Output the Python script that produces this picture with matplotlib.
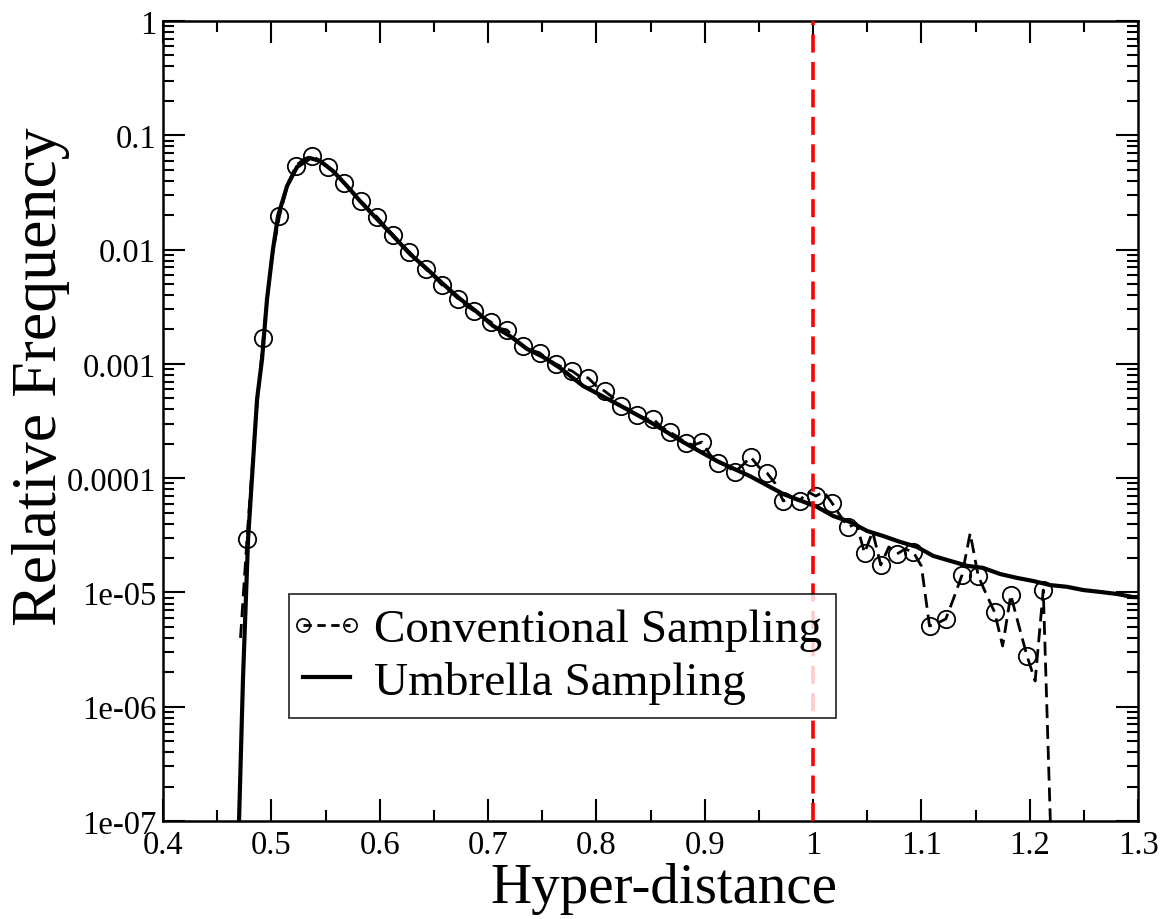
import matplotlib
matplotlib.use("Agg")
import matplotlib.pyplot as plt
from matplotlib.lines import Line2D
from matplotlib.legend_handler import HandlerLine2D
from matplotlib.ticker import FixedLocator, NullFormatter, LogLocator

plt.rcParams["font.family"] = ["Liberation Serif", "DejaVu Serif"]

# Conventional sampling (markers on every other point)
conv_x = [0.4715, 0.4775, 0.485, 0.4925, 0.500, 0.5075, 0.515, 0.5225, 0.530, 0.5375,
          0.545, 0.5525, 0.560, 0.5675, 0.575, 0.5825, 0.590, 0.5975, 0.605, 0.6125,
          0.620, 0.6275, 0.635, 0.6425, 0.650, 0.6575, 0.665, 0.6725, 0.680, 0.6875,
          0.695, 0.7025, 0.710, 0.7175, 0.725, 0.7325, 0.740, 0.7475, 0.755, 0.7625,
          0.770, 0.7775, 0.785, 0.7925, 0.800, 0.8075, 0.815, 0.8225, 0.830, 0.8375,
          0.845, 0.8525, 0.860, 0.8675, 0.875, 0.8825, 0.890, 0.8975, 0.905, 0.9125,
          0.920, 0.9275, 0.935, 0.9425, 0.950, 0.9575, 0.965, 0.9725, 0.980, 0.9875,
          0.995, 1.0025, 1.010, 1.0175, 1.025, 1.0325, 1.040, 1.0475, 1.055, 1.0625,
          1.070, 1.0775, 1.085, 1.0925, 1.100, 1.1075, 1.115, 1.1225, 1.130, 1.1375,
          1.145, 1.1525, 1.160, 1.1675, 1.175, 1.1825, 1.190, 1.1975, 1.205, 1.2125,
          1.220]
conv_y = [4e-6, 2.94e-5, 2.8e-4, 1.69e-3, 8.0e-3, 1.97e-2, 3.7e-2, 5.39e-2, 6.2e-2, 6.59e-2,
          6.0e-2, 5.28e-2, 4.5e-2, 3.83e-2, 3.2e-2, 2.66e-2, 2.25e-2, 1.93e-2, 1.6e-2, 1.34e-2,
          1.12e-2, 9.53e-3, 8.0e-3, 6.76e-3, 5.8e-3, 4.90e-3, 4.3e-3, 3.70e-3, 3.2e-3, 2.90e-3,
          2.55e-3, 2.33e-3, 2.05e-3, 1.98e-3, 1.65e-3, 1.43e-3, 1.32e-3, 1.25e-3, 1.1e-3, 1.00e-3,
          9.2e-4, 8.67e-4, 7.7e-4, 7.53e-4, 6.4e-4, 5.79e-4, 5.1e-4, 4.28e-4, 4.0e-4, 3.57e-4,
          3.3e-4, 3.30e-4, 2.8e-4, 2.54e-4, 2.3e-4, 2.03e-4, 1.95e-4, 2.07e-4, 1.6e-4, 1.36e-4,
          1.3e-4, 1.13e-4, 1.3e-4, 1.53e-4, 1.25e-4, 1.11e-4, 9.0e-5, 6.32e-5, 6.7e-5, 6.32e-5,
          7.6e-5, 6.98e-5, 7.6e-5, 6.07e-5, 4.7e-5, 3.74e-5, 4.0e-5, 2.22e-5, 3.4e-5, 1.74e-5,
          2.5e-5, 2.17e-5, 2.4e-5, 2.26e-5, 1.7e-5, 5.09e-6, 5.4e-6, 5.86e-6, 9.0e-6, 1.42e-5,
          3.3e-5, 1.39e-5, 9.6e-6, 6.75e-6, 3.4e-6, 9.5e-6, 5.1e-6, 2.78e-6, 1.68e-6, 1.05e-5,
          5e-8]

# Umbrella sampling
umb_x = [0.4695, 0.4738, 0.4785, 0.4868, 0.4914, 0.4960, 0.5015, 0.5062, 0.5145, 0.5237,
         0.5357, 0.5449, 0.5569, 0.5698, 0.5818, 0.5975, 0.6123, 0.6280, 0.6437, 0.6585,
         0.6742, 0.6898, 0.7046, 0.7203, 0.7360, 0.7508, 0.7665, 0.7877, 0.8191, 0.8496,
         0.8800, 0.9114, 0.9419, 0.9724, 1.0037, 1.0185, 1.0342, 1.0499, 1.0646, 1.0803,
         1.0960, 1.1108, 1.1265, 1.1422, 1.1569, 1.1726, 1.1883, 1.2031, 1.2188, 1.2345,
         1.2493, 1.2650, 1.2806, 1.2954, 1.3000]
umb_y = [6e-8, 1.75e-6, 2.94e-5, 4.93e-4, 1.10e-3, 3.70e-3, 1.01e-2, 1.97e-2, 3.60e-2, 5.28e-2,
         6.32e-2, 5.96e-2, 4.87e-2, 3.60e-2, 2.66e-2, 1.85e-2, 1.32e-2, 9.14e-3, 6.76e-3, 5.00e-3,
         3.70e-3, 2.84e-3, 2.15e-3, 1.75e-3, 1.35e-3, 1.15e-3, 9.2e-4, 6.41e-4, 4.46e-4, 3.10e-4,
         2.07e-4, 1.41e-4, 1.04e-4, 7.27e-5, 5.60e-5, 4.67e-5, 4.14e-5, 3.45e-5, 3.12e-5, 2.77e-5,
         2.50e-5, 2.09e-5, 1.89e-5, 1.71e-5, 1.64e-5, 1.45e-5, 1.34e-5, 1.26e-5, 1.16e-5, 1.12e-5,
         1.05e-5, 1.01e-5, 9.7e-6, 9.1e-6, 9.1e-6]

x_ticks = [0.4, 0.5, 0.6, 0.7, 0.8, 0.9, 1.0, 1.1, 1.2, 1.3]
x_ticklabels = ["0.4", "0.5", "0.6", "0.7", "0.8", "0.9", "1", "1.1", "1.2", "1.3"]
y_ticks = [1e-7, 1e-6, 1e-5, 1e-4, 1e-3, 1e-2, 1e-1, 1]
y_ticklabels = ["1e-07", "1e-06", "1e-05", "0.0001", "0.001", "0.01", "0.1", "1"]
cutoff = 1.0

fig = plt.figure(figsize=(11.62, 9.2), dpi=100)
ax = fig.add_axes([0.1403, 0.1065, 0.8391, 0.8696])

ax.plot(conv_x, conv_y, color="black", lw=2, ls=(0, (5, 2.5)),
        marker="o", mfc="none", mec="black", ms=12.5, mew=1.3,
        markevery=slice(1, None, 2), zorder=2)
ax.plot(umb_x, umb_y, color="black", lw=3, zorder=3)
ax.axvline(cutoff, color="#ff0000", lw=2.6, ls=(0, (5, 2.6)), zorder=4)

ax.set_yscale("log")
ax.set_xlim(0.4, 1.3)
ax.set_ylim(1e-7, 1)

ax.set_xticks(x_ticks)
ax.set_xticklabels(x_ticklabels)
ax.xaxis.set_minor_locator(FixedLocator([0.45, 0.55, 0.65, 0.75, 0.85, 0.95, 1.05, 1.15, 1.25]))
ax.set_yticks(y_ticks)
ax.set_yticklabels(y_ticklabels)
ax.yaxis.set_minor_locator(LogLocator(base=10, subs=[2, 3, 4, 5, 6, 7, 8, 9], numticks=20))
ax.yaxis.set_minor_formatter(NullFormatter())

ax.tick_params(which="both", direction="in", top=True, right=True, width=1.5)
ax.tick_params(which="major", length=16, labelsize=23.5)
ax.tick_params(axis="x", which="major", pad=6)
ax.tick_params(axis="y", which="major", pad=5)
ax.tick_params(which="minor", length=8)
for s in ax.spines.values():
    s.set_linewidth(1.8)

ax.set_xlabel("Hyper-distance", fontsize=41)
ax.set_ylabel("Relative Frequency", fontsize=46)
ax.xaxis.set_label_coords(0.514, -0.051)
ax.yaxis.set_label_coords(-0.095, 0.557)

handles = [
    Line2D([], [], color="black", lw=2, ls=(0, (3, 2)), marker="o", mfc="none",
           mec="black", ms=9.5, mew=1.2),
    Line2D([], [], color="black", lw=3),
]
leg = ax.legend(handles, ["Conventional Sampling", "Umbrella Sampling"],
                loc="upper left", bbox_to_anchor=(0.129, 0.284), borderaxespad=0,
                fontsize=34, frameon=True, fancybox=False, edgecolor="black",
                handlelength=1.0, handletextpad=0.5, borderpad=0.3, labelspacing=0.2,
                numpoints=2, handler_map={Line2D: HandlerLine2D(marker_pad=0)})
leg.get_frame().set_linewidth(1.3)

fig.savefig("out.png", dpi=100, facecolor="white")
